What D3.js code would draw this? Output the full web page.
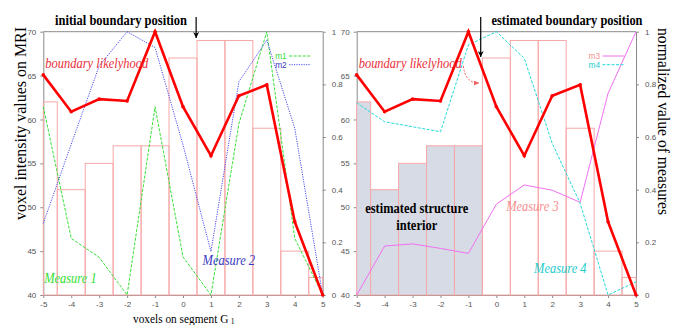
<!DOCTYPE html>
<html><head><meta charset="utf-8">
<script src="https://cdn.jsdelivr.net/npm/d3@7/dist/d3.min.js"></script>
<style>body{margin:0;background:#fff}svg{display:block}</style>
</head><body>
<svg id="c" width="680" height="325"></svg>
<script>
const voxels = [-5,-4,-3,-2,-1,0,1,2,3,4,5];
const intensity = [62,52,55,57,57,67,69,69,59,45,42];
const likelihood = [0.836,0.696,0.744,0.737,1.0,0.715,0.529,0.757,0.798,0.278,0];
const m1 = [0.715,0.215,0.143,0,0.715,0.145,0,0.65,1.0,0.215,0];
const m2 = [0.272,0.573,0.87,1.0,0.94,0.57,0.165,0.81,0.968,0.633,0];
const m3 = [0,0.186,0.194,0.177,0.158,0.345,0.418,0.398,0.352,0.766,1.0];
const m4 = [0.730,0.658,0.639,0.62,0.95,1.0,0.899,0.576,0.348,0,0.05];
const leftTicks = [40,45,50,55,60,65,70];
const rightTicks = [0,0.2,0.4,0.6,0.8,1];
const xTicks = [-5,-4,-3,-2,-1,0,1,2,3,4,5];

const svg = d3.select("#c");
const yTop = 31.7, yBot = 295;
const yL = d3.scaleLinear().domain([40,70]).range([yBot,yTop]);
const yR = d3.scaleLinear().domain([0,1]).range([yBot,yTop]);
const xA = d3.scaleLinear().domain([-5,5]).range([43.3,322.7]);
const xB = d3.scaleLinear().domain([-5,5]).range([356.7,636]);

const serif = "'Liberation Serif','Times New Roman','DejaVu Serif',serif";
const sans = "'Liberation Sans',Arial,sans-serif";

function styleAxis(g){
  g.selectAll(".domain").attr("stroke","#8a8a8a");
  g.selectAll(".tick line").attr("stroke","#8a8a8a");
  g.selectAll(".tick text").attr("fill","#555").attr("font-family",sans).attr("font-size",8);
}

function panel(x, opts){
  const g = svg.append("g");
  const ax = g.append("g").attr("transform",`translate(0,${yBot})`)
    .call(d3.axisBottom(x).tickValues(xTicks).tickFormat(d=>String(d)).tickSize(3).tickSizeOuter(0).tickPadding(3));
  styleAxis(ax);
  const al = g.append("g").attr("transform",`translate(${x(-5)},0)`)
    .call(d3.axisLeft(yL).tickValues(leftTicks).tickFormat(d=>String(d)).tickSize(3).tickSizeOuter(0).tickPadding(4));
  styleAxis(al);
  const ar = g.append("g").attr("transform",`translate(${x(5)},0)`)
    .call(d3.axisRight(yR).tickValues(rightTicks).tickFormat(d=>String(d)).tickSize(3).tickSizeOuter(0).tickPadding(6));
  styleAxis(ar);
  g.append("line").attr("x1",x(-5)).attr("x2",x(5)).attr("y1",yTop).attr("y2",yTop).attr("stroke","#8a8a8a");

  g.selectAll("rect.bar").data(voxels).join("rect")
    .attr("x",d=>x(Math.max(-5,d-0.5)))
    .attr("width",d=>x(Math.min(5,d+0.5))-x(Math.max(-5,d-0.5)))
    .attr("y",(d,i)=>yL(intensity[i]))
    .attr("height",(d,i)=>yBot-yL(intensity[i]))
    .attr("fill",d=>(opts.fillInterior && d<0)?"#d7dbe5":"none")
    .attr("stroke","#f7a8a8").attr("stroke-width",1);

  const line = arr => d3.line().x((d,i)=>x(voxels[i])).y(d=>yR(d))(arr);
  opts.series.forEach(s=>{
    g.append("path").attr("d",line(s.values)).attr("fill","none")
      .attr("stroke",s.color).attr("stroke-width",s.w||1)
      .attr("stroke-dasharray",s.dash||null);
  });
  g.append("path").attr("d",line(likelihood)).attr("fill","none")
    .attr("stroke","#ff0000").attr("stroke-width",2.6).attr("stroke-linejoin","miter");
  g.selectAll("circle.lk").data(likelihood).join("circle")
    .attr("cx",(d,i)=>x(voxels[i])).attr("cy",d=>yR(d)).attr("r",1.8).attr("fill","#ff0000");

  g.append("text").attr("x",x(-4.93)).attr("y",68).attr("font-family",serif).attr("font-style","italic")
    .attr("font-size",14.5).attr("fill","#e8303a").attr("textLength",103).attr("lengthAdjust","spacingAndGlyphs")
    .text("boundary likelyhood");

  opts.series.forEach((s,k)=>{
    const ly = 56 + k*8.7;
    g.append("text").attr("x",x(3.3)).attr("y",ly+3).attr("font-family",sans).attr("font-size",9)
      .attr("fill",s.labelColor).attr("textLength",11.5).attr("lengthAdjust","spacingAndGlyphs").text(s.name);
    g.append("line").attr("x1",x(3.8)).attr("x2",x(4.58)).attr("y1",ly).attr("y2",ly)
      .attr("stroke",s.color).attr("stroke-width",1).attr("stroke-dasharray",s.dash||null);
  });
  opts.series.forEach(s=>{
    g.append("text").attr("x",x(s.lx)).attr("y",s.ly).attr("font-family",serif).attr("font-style","italic")
      .attr("font-size",14.5).attr("fill",s.labelColor).attr("textLength",52.5).attr("lengthAdjust","spacingAndGlyphs")
      .text(s.label);
  });
  return g;
}

panel(xA,{fillInterior:false,series:[
  {name:"m1",values:m1,color:"#33e033",dash:"3,1.5",labelColor:"#33e033",label:"Measure 1",lx:-4.97,ly:283},
  {name:"m2",values:m2,color:"#4a4af0",dash:"1.2,1.2",labelColor:"#3838c0",label:"Measure 2",lx:0.7,ly:265}
]});
panel(xB,{fillInterior:true,series:[
  {name:"m3",values:m3,color:"#f070f0",labelColor:"#f49090",label:"Measure 3",lx:0.35,ly:211},
  {name:"m4",values:m4,color:"#22d8d8",dash:"3,1.5",labelColor:"#22cccc",label:"Measure 4",lx:1.35,ly:273}
]});

const defs = svg.append("defs");
defs.append("marker").attr("id","ah").attr("viewBox","0 0 10 10").attr("refX",10).attr("refY",5)
  .attr("markerWidth",6).attr("markerHeight",6).attr("orient","auto").attr("markerUnits","userSpaceOnUse")
  .append("path").attr("d","M0,0 L10,5 L0,10 L3,5 z").attr("fill","#000");
defs.append("marker").attr("id","ahr").attr("viewBox","0 0 10 10").attr("refX",10).attr("refY",5)
  .attr("markerWidth",6).attr("markerHeight",5).attr("orient","auto").attr("markerUnits","userSpaceOnUse")
  .append("path").attr("d","M0,0 L10,5 L0,10 z").attr("fill","#f06060");

svg.append("line").attr("x1",xA(0.47)).attr("x2",xA(0.47)).attr("y1",17).attr("y2",38)
  .attr("stroke","#000").attr("stroke-width",1.2).attr("marker-end","url(#ah)");
svg.append("line").attr("x1",xB(-0.56)).attr("x2",xB(-0.56)).attr("y1",17).attr("y2",57)
  .attr("stroke","#000").attr("stroke-width",1.2).attr("marker-end","url(#ah)");

svg.append("path")
  .attr("d",`M${xB(-1.18)},${yR(0.87)} Q${xB(-1.12)},${yR(0.805)} ${xB(-0.62)},${yR(0.805)}`)
  .attr("fill","none").attr("stroke","#f06060").attr("stroke-width",1).attr("stroke-dasharray","2,1.5")
  .attr("marker-end","url(#ahr)");

svg.append("text").attr("x",55).attr("y",24.5).attr("font-family",serif).attr("font-weight","bold")
  .attr("font-size",15).attr("textLength",132).attr("lengthAdjust","spacingAndGlyphs").text("initial boundary position");
svg.append("text").attr("x",491.5).attr("y",24.5).attr("font-family",serif).attr("font-weight","bold")
  .attr("font-size",15).attr("textLength",151).attr("lengthAdjust","spacingAndGlyphs").text("estimated boundary position");

svg.append("text").attr("transform","translate(26,123.5) rotate(-90)").attr("text-anchor","middle")
  .attr("font-family",serif).attr("font-size",16).attr("textLength",193).attr("lengthAdjust","spacingAndGlyphs")
  .text("voxel intensity values on MRI");
svg.append("text").attr("transform","translate(658,121.5) rotate(90)").attr("text-anchor","middle")
  .attr("font-family",serif).attr("font-size",16).attr("textLength",187).attr("lengthAdjust","spacingAndGlyphs")
  .text("normalized value of measures");

const xt = svg.append("text").attr("transform","translate(133,322.5) scale(0.84,1)")
  .attr("font-family",serif).attr("font-size",13.5);
xt.append("tspan").text("voxels on segment G");
xt.append("tspan").attr("font-size",9).attr("dx",3).attr("dy",1.5).text("1");

const est = svg.append("text").attr("font-family",serif).attr("font-weight","bold").attr("font-size",15).attr("text-anchor","middle");
est.append("tspan").attr("x",xB(-2.85)).attr("y",213).attr("textLength",103).attr("lengthAdjust","spacingAndGlyphs").text("estimated structure");
est.append("tspan").attr("x",xB(-2.85)).attr("y",230).attr("textLength",41).attr("lengthAdjust","spacingAndGlyphs").text("interior");
</script>
</body></html>
